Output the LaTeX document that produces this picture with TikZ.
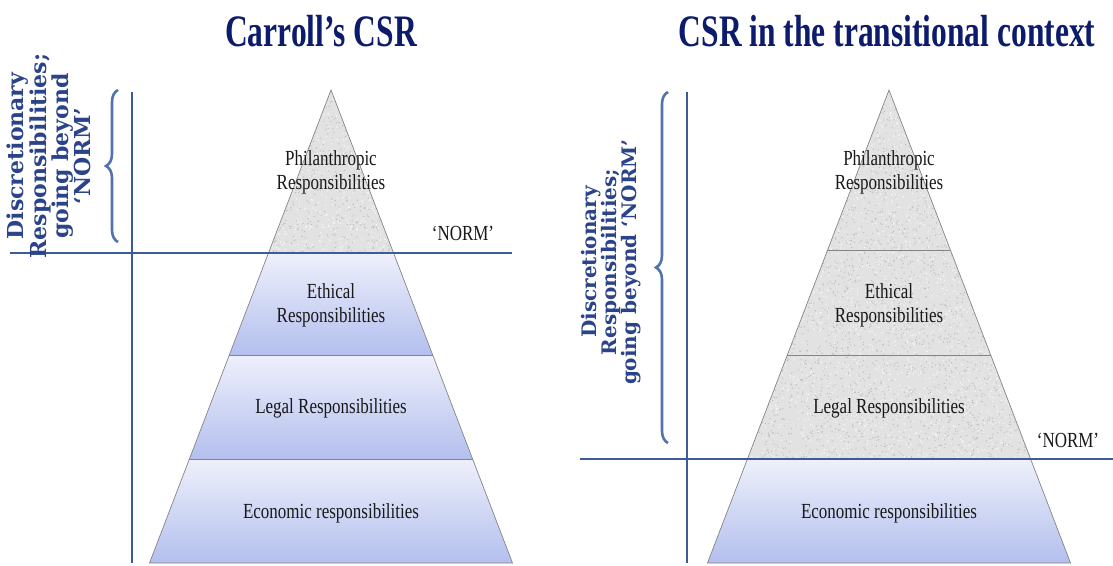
\documentclass[tikz,border=0pt]{standalone}
\usepackage{fontspec}
\setmainfont{Liberation Serif}
\newfontfamily\sidefont{DejaVu Serif}
\usetikzlibrary{decorations.pathreplacing}
\definecolor{titleblue}{HTML}{0C1B6B}
\definecolor{linblue}{HTML}{3C5C98}
\definecolor{braceblue}{HTML}{5272AE}
\definecolor{sidetext}{HTML}{2A438A}
\definecolor{bandtop}{HTML}{EEF0FB}
\definecolor{bandbot}{HTML}{B3BFEE}
\definecolor{granite}{HTML}{E2E2E2}
\definecolor{granitedark}{HTML}{BEBEBE}
\definecolor{granitelight}{HTML}{F6F6F6}
\definecolor{edgegray}{HTML}{858585}
\newcommand{\cnd}[1]{\scalebox{0.79}[1]{#1}}
\newcommand{\ttl}[1]{\scalebox{0.70}[1]{#1}}
\begin{document}
\begin{tikzpicture}[x=1pt,y=-1pt,
  titletxt/.style={font=\fontsize{45}{50}\selectfont\bfseries, text=titleblue, inner sep=0},
  lab/.style={font=\fontsize{21.5}{24}\selectfont, text=black!90, align=center, inner sep=0},
  side/.style={text=sidetext, align=center, rotate=90, inner sep=0},
  axisline/.style={draw=linblue, line width=2.4pt},
  brc/.style={draw=braceblue, line width=2.6pt, decorate, decoration={brace, amplitude=12pt}},
  blueband/.style={top color=bandtop, bottom color=bandbot},
  grayband/.style={fill=granite},
  edgeline/.style={draw=edgegray, line width=0.7pt},
]
\useasboundingbox[fill=white] (0,0) rectangle (1113,565);
\pgfmathsetseed{12}

% ---------------- left pyramid ----------------
\coordinate (LA) at (331,90);
\coordinate (LBL) at (149.5,563);
\coordinate (LBR) at (512.5,563);
\path[grayband] (LA) -- (393.5,253) -- (268.5,253) -- cycle;
\begin{scope}
  \clip (LA) -- (393.5,253) -- (268.5,253) -- cycle;
  \foreach \k in {1,...,600} \fill[granitedark] ({268+rnd*126},{90+rnd*163}) circle (0.7);
  \foreach \k in {1,...,500} \fill[granitelight] ({268+rnd*126},{90+rnd*163}) circle (0.8);
\end{scope}
\path[blueband] (268.5,253) -- (393.5,253) -- (432.7,355) -- (229.3,355) -- cycle;
\path[blueband] (229.3,355) -- (432.7,355) -- (472.6,459) -- (189.4,459) -- cycle;
\path[blueband] (189.4,459) -- (472.6,459) -- (LBR) -- (LBL) -- cycle;
\draw[edgeline] (LA) -- (LBR) -- (LBL) -- cycle;
\draw[edgeline] (229.3,355) -- (432.7,355);
\draw[edgeline] (189.4,459) -- (472.6,459);

% left axes
\coordinate (LV1) at (132,92);
\coordinate (LV2) at (132,563);
\coordinate (LH1) at (10,253);
\coordinate (LH2) at (512,253);
\draw[axisline] (LV1) -- (LV2);
\draw[axisline] (LH1) -- (LH2);
\coordinate (LB1) at (118,242);
\coordinate (LB2) at (118,90);
\draw[brc] (LB1) -- (LB2);

\node[titletxt, anchor=base] (t1) at (321,46) {\ttl{Carroll’s CSR}};
\node[side, font=\sidefont\bfseries\fontsize{22}{20.5}\selectfont] (s1) at (49,156) {Discretionary\\Responsibilities;\\going beyond\\‘NORM’};
\node[lab] (n1) at (463,233) {\cnd{‘NORM’}};
\node[lab] (p1) at (331,172) {\cnd{Philanthropic}\\\cnd{Responsibilities}};
\node[lab] (e1) at (331,305) {\cnd{Ethical}\\\cnd{Responsibilities}};
\node[lab] (g1) at (331,408) {\cnd{Legal Responsibilities}};
\node[lab] (c1) at (331,513) {\cnd{Economic responsibilities}};

% ---------------- right pyramid ----------------
\coordinate (RA) at (889,90);
\coordinate (RBL) at (707.5,563);
\coordinate (RBR) at (1070.5,563);
\path[grayband] (RA) -- (1030.6,459) -- (747.4,459) -- cycle;
\begin{scope}
  \clip (RA) -- (1030.6,459) -- (747.4,459) -- cycle;
  \foreach \k in {1,...,3200} \fill[granitedark] ({747+rnd*284},{90+rnd*369}) circle (0.7);
  \foreach \k in {1,...,2600} \fill[granitelight] ({747+rnd*284},{90+rnd*369}) circle (0.8);
\end{scope}
\path[blueband] (747.4,459) -- (1030.6,459) -- (RBR) -- (RBL) -- cycle;
\draw[edgeline] (RA) -- (RBR) -- (RBL) -- cycle;
\draw[edgeline] (827.6,250) -- (950.4,250);
\draw[edgeline] (787.3,355) -- (990.7,355);

% right axes
\coordinate (RV1) at (687,92);
\coordinate (RV2) at (687,563);
\coordinate (RH1) at (580,459);
\coordinate (RH2) at (1113,459);
\draw[axisline] (RV1) -- (RV2);
\draw[axisline] (RH1) -- (RH2);
\coordinate (RB1) at (668,443);
\coordinate (RB2) at (668,92);
\draw[brc] (RB1) -- (RB2);

\node[titletxt, anchor=base] (t2) at (887,46) {\ttl{CSR in the transitional context}};
\node[side, font=\sidefont\bfseries\fontsize{20}{19.5}\selectfont] (s2) at (611,262) {Discretionary\\Responsibilities;\\going beyond ‘NORM’};
\node[lab] (n2) at (1068,440) {\cnd{‘NORM’}};
\node[lab] (p2) at (889,172) {\cnd{Philanthropic}\\\cnd{Responsibilities}};
\node[lab] (e2) at (889,305) {\cnd{Ethical}\\\cnd{Responsibilities}};
\node[lab] (g2) at (889,408) {\cnd{Legal Responsibilities}};
\node[lab] (c2) at (889,513) {\cnd{Economic responsibilities}};
\end{tikzpicture}
\end{document}
